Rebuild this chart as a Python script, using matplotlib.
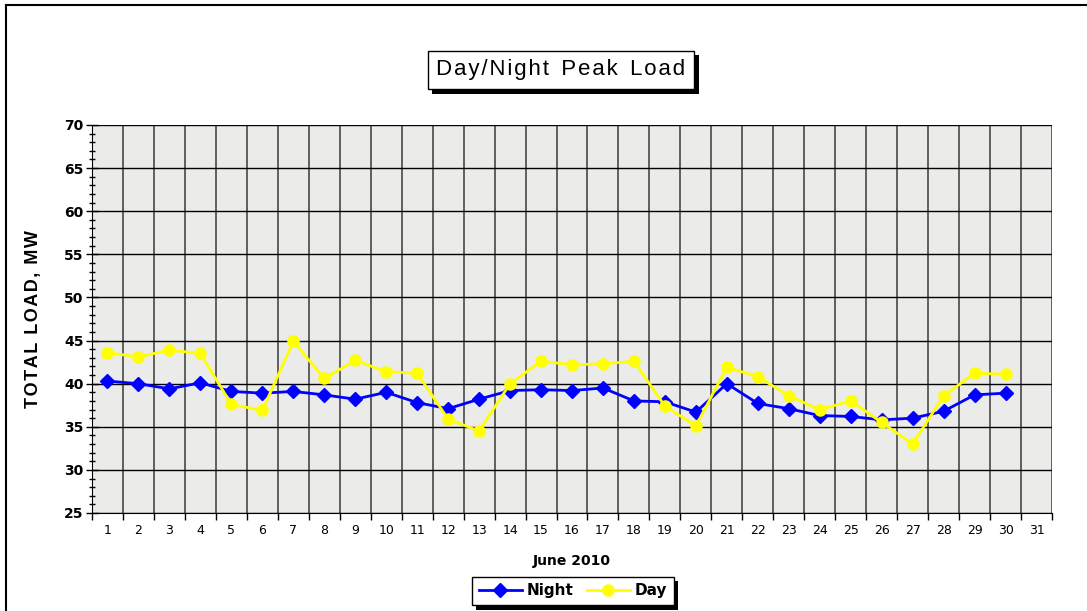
import numpy as np
import matplotlib
matplotlib.use('Agg')
import matplotlib.pyplot as plt
import matplotlib.patheffects as pe
from matplotlib.ticker import MultipleLocator, FixedLocator

# 6월 일자별 주/야간 최대 부하 (MW)
days = list(range(1, 31))
night = [40.3, 40.0, 39.4, 40.1, 39.1, 38.9, 39.1, 38.7, 38.2, 39.0,
         37.8, 37.1, 38.2, 39.2, 39.3, 39.2, 39.5, 38.0, 37.9, 36.7,
         40.0, 37.7, 37.1, 36.3, 36.2, 35.8, 36.0, 36.8, 38.7, 38.9]
day = [43.6, 43.1, 43.9, 43.5, 37.6, 36.9, 44.9, 40.6, 42.7, 41.4,
       41.2, 35.9, 34.5, 40.0, 42.6, 42.2, 42.3, 42.6, 37.4, 35.1,
       41.9, 40.8, 38.6, 37.0, 38.0, 35.5, 33.0, 38.6, 41.2, 41.1]
x_labels = [str(i) for i in range(1, 32)]

W, H = 1087, 611
fig = plt.figure(figsize=(W / 100, H / 100), dpi=100)
fig.patch.set_facecolor('white')

# 바깥 테두리 (왼쪽/위쪽만 보임)
fig.add_artist(plt.Line2D([6 / W, 6 / W], [0, 1 - 5 / H], color='black', lw=1.5))
fig.add_artist(plt.Line2D([6 / W, 1], [1 - 5 / H, 1 - 5 / H], color='black', lw=1.5))

ax = fig.add_axes([92 / W, 1 - 513 / H, (1052 - 92) / W, (513 - 125) / H])
ax.set_facecolor('#ebebe9')

ax.plot(days, night, color='#0000ff', lw=2, marker='D', ms=7, label='Night', zorder=3)
ax.plot(days, day, color='#ffff00', lw=2, marker='o', ms=8, label='Day', zorder=3)

ax.set_xlim(0.5, 31.5)
ax.set_ylim(25, 70)

# x축: 경계에 눈금/격자, 가운데에 라벨
ax.xaxis.set_major_locator(FixedLocator(np.arange(0.5, 32, 1)))
ax.xaxis.set_minor_locator(FixedLocator(np.arange(1, 32, 1)))
ax.xaxis.set_major_formatter(plt.NullFormatter())
ax.set_xticklabels(x_labels, minor=True)
ax.tick_params(axis='x', which='major', length=5, direction='out', width=1)
ax.tick_params(axis='x', which='minor', length=0, pad=8, labelsize=9)

ax.yaxis.set_major_locator(MultipleLocator(5))
ax.yaxis.set_minor_locator(MultipleLocator(1))
ax.tick_params(axis='y', which='major', direction='inout', length=8, width=1, labelsize=10, pad=2)
ax.tick_params(axis='y', which='minor', direction='inout', length=5, width=1)
for t in ax.get_yticklabels():
    t.set_fontweight('bold')

ax.grid(True, axis='y', which='major', color='black', lw=1)
ax.grid(True, axis='x', which='major', color='#555555', lw=1.3)
ax.set_axisbelow(True)
for s in ['top', 'right']:
    ax.spines[s].set_visible(False)
ax.spines['left'].set_color('black')
ax.spines['bottom'].set_color('black')

hs = '\u200a'
ax.set_xlabel('June 2010', fontsize=10, fontweight='bold', labelpad=12)
ax.set_ylabel(hs.join('TOTAL LOAD, MW'), fontsize=13, fontweight='bold', labelpad=16,
              fontfamily=['Liberation Sans', 'DejaVu Sans'])

# 제목 박스 (그림자 포함)
title_text = '  '.join(hs.join(w) for w in ['Day/Night', 'Peak', 'Load'])
title = fig.text(561 / W, 1 - 70 / H, title_text, ha='center', va='center',
                 fontsize=16, fontfamily=['Liberation Sans', 'DejaVu Sans'],
                 bbox=dict(boxstyle='square,pad=0.4', fc='white', ec='black', lw=1))
title.get_bbox_patch().set_path_effects([
    pe.SimplePatchShadow(offset=(3, -3), shadow_rgbFace='black', alpha=1), pe.Normal()])

leg = ax.legend(loc='center', bbox_to_anchor=(573 / W, 1 - 591 / H), bbox_transform=fig.transFigure,
                ncol=2, frameon=True, fancybox=False, edgecolor='black', framealpha=1,
                handlelength=2.8, handletextpad=0.3, columnspacing=0.9, borderpad=0.45,
                prop={'weight': 'bold', 'size': 11})
leg.get_frame().set_linewidth(1)
leg.get_frame().set_path_effects([
    pe.SimplePatchShadow(offset=(3, -3), shadow_rgbFace='black', alpha=1), pe.Normal()])

fig.savefig('out.png', dpi=100)
